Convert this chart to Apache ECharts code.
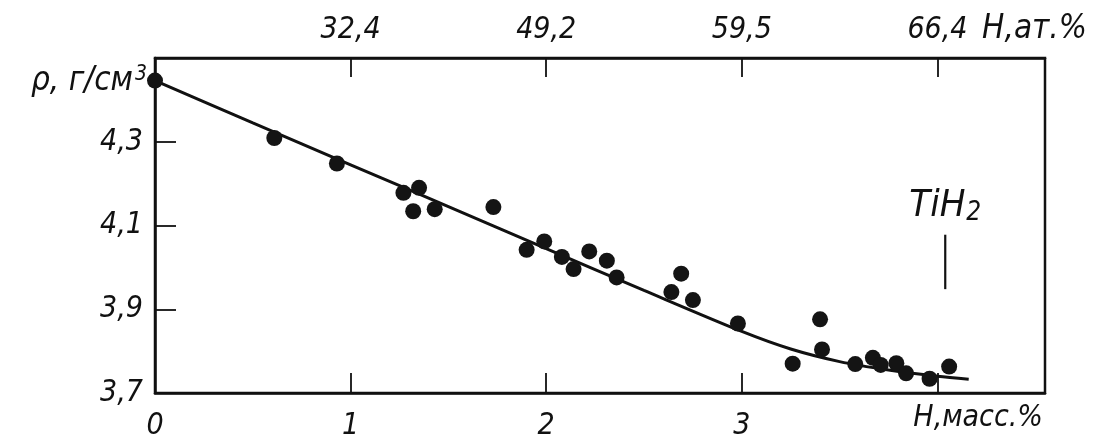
<!DOCTYPE html>
<html>
<head>
<meta charset="utf-8">
<script src="https://cdn.jsdelivr.net/npm/echarts@6/dist/echarts.min.js"></script>
<style>
html,body{margin:0;padding:0;background:#fff;}
#chart{width:1095px;height:441px;}
</style>
</head>
<body>
<div id="chart"></div>
<script>
// H, mass.% of the measured samples
const massPct = [0.00, 0.61, 0.93, 1.27, 1.35, 1.32, 1.43, 1.73, 1.90, 1.99, 2.08, 2.14, 2.22, 2.31, 2.36, 2.64, 2.69, 2.75, 2.98, 3.26, 3.40, 3.41, 3.58, 3.67, 3.71, 3.79, 3.84, 3.96, 4.06];
// density, g/cm3
const density = [4.446, 4.309, 4.248, 4.178, 4.190, 4.134, 4.139, 4.144, 4.042, 4.062, 4.025, 3.996, 4.038, 4.016, 3.976, 3.941, 3.985, 3.922, 3.866, 3.770, 3.876, 3.804, 3.769, 3.784, 3.767, 3.771, 3.747, 3.734, 3.763];
// fitted curve
const curveX = [0, 0.5, 1.0, 1.5, 2.0, 2.5, 3.0, 3.25, 3.5, 3.75, 4.0, 4.16];
const curveY = [4.446, 4.345, 4.245, 4.145, 4.045, 3.945, 3.847, 3.805, 3.775, 3.755, 3.740, 3.733];
// TiH2 marker
const tih2X = 4.04;
const tih2Y = [3.948, 4.078];
// top axis: H, at.% at mass.% ticks
const topTickValues = [1, 2, 3, 4];
const topTickLabels = ['32,4', '49,2', '59,5', '66,4'];
const bottomTickValues = [0, 1, 2, 3];
const yTickValues = [3.7, 3.9, 4.1, 4.3];

const FONT = '"DejaVu Sans Condensed", "DejaVu Sans", sans-serif';
const INK = '#111';
const baseText = {fontFamily: FONT, fontStyle: 'italic', fontSize: 30, color: INK};

const near = (v, arr) => arr.findIndex(t => Math.abs(t - v) < 1e-6);

const chart = echarts.init(document.getElementById('chart'), null, {renderer: 'canvas'});
const option = {
  backgroundColor: '#fff',
  animation: false,
  grid: {left: 155, right: 50, top: 58, bottom: 47, show: true, borderColor: INK, borderWidth: 2.5, backgroundColor: 'transparent'},
  xAxis: [{
    type: 'value', min: 0, max: 4.55, interval: 1, position: 'bottom',
    axisLine: {show: true, lineStyle: {color: INK, width: 2.5}},
    axisTick: {show: true, inside: true, length: 20, lineStyle: {color: INK, width: 1.8}},
    axisLabel: Object.assign({}, baseText, {margin: 18, formatter: v => near(v, bottomTickValues) >= 0 ? String(Math.round(v)) : ''}),
    splitLine: {show: false},
    name: 'H,масс.%', nameLocation: 'end', nameGap: -2,
    nameTextStyle: Object.assign({}, baseText, {align: 'right', verticalAlign: 'top', padding: [10, 0, 0, 0]})
  }, {
    type: 'value', min: 0, max: 4.55, interval: 1, position: 'top',
    axisLine: {show: true, lineStyle: {color: INK, width: 2.5}},
    axisTick: {show: true, inside: true, length: 19, lineStyle: {color: INK, width: 1.8}},
    axisLabel: Object.assign({}, baseText, {margin: 13, formatter: v => { const i = near(v, topTickValues); return i >= 0 ? topTickLabels[i] : ''; }}),
    splitLine: {show: false},
    name: 'H,ат.%', nameLocation: 'end', nameGap: 42,
    nameTextStyle: Object.assign({}, baseText, {fontSize: 33, align: 'right', verticalAlign: 'bottom', padding: [0, 0, 12, 0]})
  }],
  yAxis: [{
    type: 'value', min: 3.7, max: 4.5, interval: 0.2,
    axisLine: {show: true, lineStyle: {color: INK, width: 2.5}},
    axisTick: {show: true, inside: true, length: 21, lineStyle: {color: INK, width: 1.8}},
    axisLabel: Object.assign({}, baseText, {margin: 12, padding: [8, 0, 0, 0], formatter: v => near(v, yTickValues) >= 0 ? v.toFixed(1).replace('.', ',') : ''}),
    splitLine: {show: false},
    name: '{a|ρ, г/см}{s|3}', nameLocation: 'end', nameGap: -6,
    nameTextStyle: Object.assign({}, baseText, {align: 'right', verticalAlign: 'top', padding: [0, 8, 0, 0],
      rich: {a: Object.assign({}, baseText, {fontSize: 33}), s: Object.assign({}, baseText, {fontSize: 21, verticalAlign: 'top', padding: [0, 0, 14, 2]})}})
  }],
  series: [{
    type: 'line', name: 'curve', xAxisIndex: 0, yAxisIndex: 0,
    data: curveX.map((x, i) => [x, curveY[i]]),
    smooth: 0.3, symbol: 'none',
    lineStyle: {color: INK, width: 3}, z: 2
  }, {
    type: 'scatter', name: 'points', xAxisIndex: 0, yAxisIndex: 0,
    data: massPct.map((x, i) => [x, density[i]]),
    symbol: 'circle', symbolSize: 16,
    itemStyle: {color: '#141414', opacity: 1}, z: 3
  }, {
    type: 'line', name: 'TiH2', xAxisIndex: 0, yAxisIndex: 0,
    data: tih2Y.map(y => [tih2X, y]),
    symbol: 'none', lineStyle: {color: INK, width: 2.2}, z: 2
  }, {
    type: 'scatter', name: 'TiH2 label', xAxisIndex: 0, yAxisIndex: 0,
    data: [[tih2X, tih2Y[1]]],
    symbolSize: 1, itemStyle: {color: 'rgba(0,0,0,0)', opacity: 1},
    label: {show: true, position: 'top', distance: 8, color: INK, opacity: 1,
      formatter: '{a|TiH}{b|2}',
      rich: {a: Object.assign({}, baseText, {fontSize: 38}), b: Object.assign({}, baseText, {fontSize: 26, verticalAlign: 'bottom', padding: [14, 0, 0, 1]})}},
    z: 4
  }]
};
chart.setOption(option);
</script>
</body>
</html>
